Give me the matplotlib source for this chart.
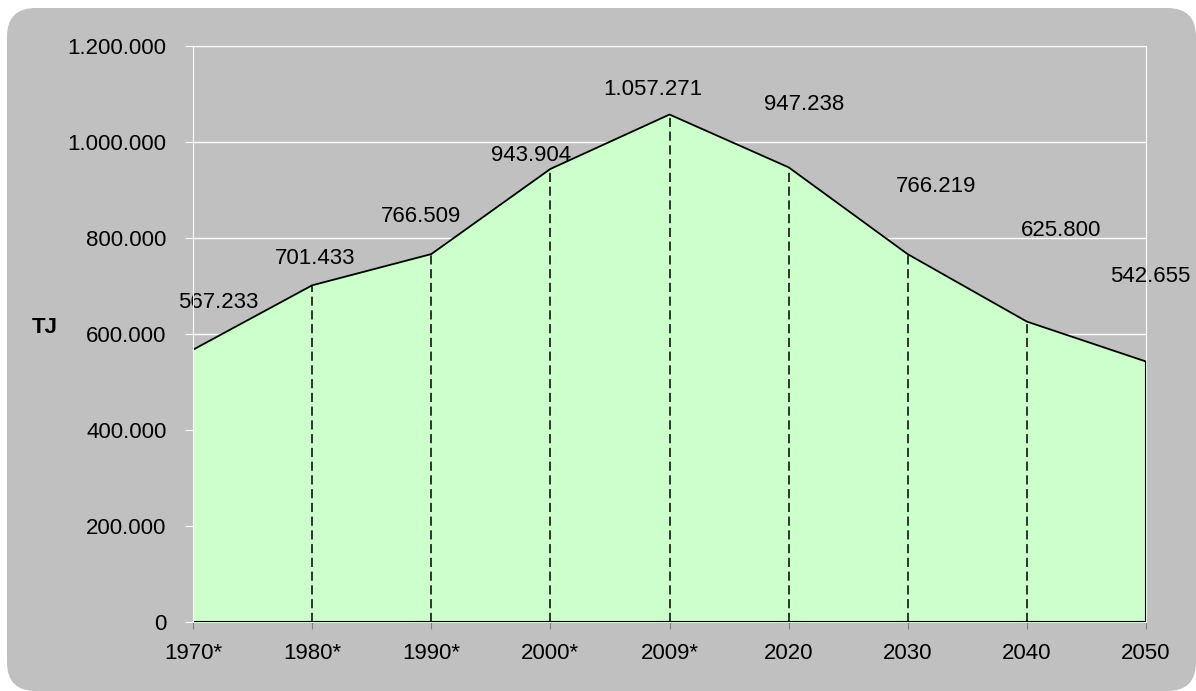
import numpy as np
import matplotlib.pyplot as plt
from matplotlib.patches import FancyBboxPatch

plt.rcParams['font.family'] = ['Liberation Sans', 'DejaVu Sans']

years = ['1970*', '1980*', '1990*', '2000*', '2009*', '2020', '2030', '2040', '2050']
values = [567233, 701433, 766509, 943904, 1057271, 947238, 766219, 625800, 542655]
labels = ['567.233', '701.433', '766.509', '943.904', '1.057.271', '947.238', '766.219', '625.800', '542.655']
# where excel put the labels, pixel offset of the label centre from the point (dx, dy up)
offsets = [(25, 47), (3, 27), (-10, 38), (-19, 13), (-17, 25), (15, 63), (28, 68), (34, 91), (4, 85)]

def fmt(v, pos):
    return '{:,.0f}'.format(v).replace(',', '.')

fig = plt.figure(figsize=(11.96, 6.91), dpi=100)
fig.patch.set_facecolor('white')
bg = FancyBboxPatch((7 / 1196, 0.0), 1189 / 1196, 683 / 691,
                    boxstyle='round,pad=0,rounding_size=0.024',
                    transform=fig.transFigure, facecolor='#C0C0C0', edgecolor='none',
                    mutation_aspect=1196 / 691, zorder=-10)
fig.patches.append(bg)

ax = fig.add_axes([0.1614, 0.0999, 0.7968, 0.8335])
ax.set_facecolor('#C0C0C0')
x = np.arange(len(years))
ax.set_xlim(0, len(years) - 1)
ax.set_ylim(0, 1200000)
ax.set_yticks(np.arange(0, 1200001, 200000))
ax.yaxis.set_major_formatter(plt.FuncFormatter(fmt))
ax.grid(axis='y', color='white', linewidth=1)
ax.set_axisbelow(True)

ax.fill_between(x, values, 0, color='#CCFFCC', zorder=2)
ax.plot(x, values, color='black', linewidth=1.3, zorder=3)
ax.plot([x[0], x[-1]], [0, 0], color='black', linewidth=1.5, zorder=3)
ax.plot([x[-1], x[-1]], [0, values[-1]], color='black', linewidth=1.5, zorder=3)
for i in range(1, len(years) - 1):
    ax.plot([x[i], x[i]], [0, values[i]], color='black', linewidth=1.1, linestyle=(0, (6, 3)), zorder=3)

for i in range(len(years)):
    ax.annotate(labels[i], (x[i], values[i]), xytext=(offsets[i][0] * 0.72, offsets[i][1] * 0.72),
                textcoords='offset points', ha='center', va='center', fontsize=16, zorder=4)

ax.set_xticks(x)
ax.set_xticklabels(years, fontsize=16)
ax.tick_params(axis='y', labelsize=16, color='white', length=6, pad=13)
ax.tick_params(axis='x', color='#808080', length=5, pad=10)
ax.spines['top'].set_visible(False)
ax.spines['bottom'].set_visible(False)
ax.spines['left'].set_color('white')
ax.spines['left'].set_zorder(5)
ax.spines['right'].set_color('white')
ax.spines['right'].set_zorder(1)

fig.text(45 / 1196, 1 - 327 / 691, 'TJ', fontsize=16, fontweight='bold', ha='center', va='center')

fig.savefig('out.png', dpi=100, facecolor=fig.get_facecolor())
